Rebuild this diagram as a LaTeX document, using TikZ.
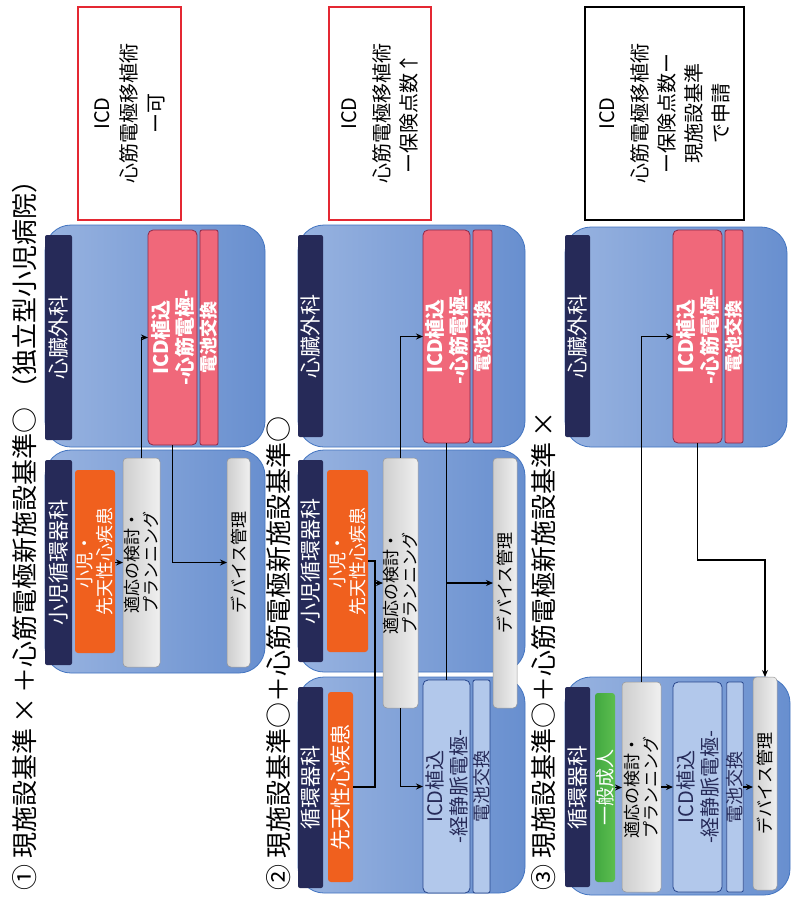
\documentclass[tikz,border=0pt]{standalone}
\usepackage{fontspec}
\setmainfont{Noto Sans CJK JP}
\usetikzlibrary{arrows.meta,calc}
\definecolor{navy}{RGB}{38,42,88}
\definecolor{panelL}{RGB}{152,179,224}
\definecolor{panelR}{RGB}{104,143,207}
\definecolor{panelB}{RGB}{66,116,192}
\definecolor{redA}{RGB}{240,104,122}
\definecolor{redB}{RGB}{226,22,50}
\definecolor{redD}{RGB}{140,40,72}
\definecolor{grayA}{RGB}{240,240,240}
\definecolor{grayB}{RGB}{206,206,206}
\definecolor{grayD}{RGB}{150,150,150}
\definecolor{lbA}{RGB}{230,237,248}
\definecolor{lbB}{RGB}{178,200,235}
\definecolor{lbD}{RGB}{40,70,140}
\definecolor{orB}{RGB}{240,96,30}
\definecolor{grA}{RGB}{92,190,80}
\definecolor{grB}{RGB}{66,168,64}
\definecolor{frameRed}{RGB}{228,40,50}
\tikzset{
  every node/.style={inner sep=0pt, outer sep=0pt},
  panel/.style={draw=panelB, line width=0.8pt, rounded corners=26pt, left color=panelL, right color=panelR},
  tab/.style={fill=navy, rotate=90, text=white, rounded corners=2pt, font=\fontsize{21}{23}\selectfont},
  redbox/.style={draw=redD, line width=0.8pt, rounded corners=5pt, rotate=90, top color=redA, middle color=redB, bottom color=redA, text=white, align=center, font=\bfseries\fontsize{20}{24}\selectfont},
  redbatt/.style={redbox, rounded corners=2pt, font=\bfseries\fontsize{18}{20}\selectfont},
  lbbox/.style={draw=lbD, line width=0.8pt, rounded corners=5pt, rotate=90, left color=lbB, middle color=lbA, right color=lbB, text=navy, align=center, font=\fontsize{20}{24}\selectfont},
  lbbatt/.style={lbbox, rounded corners=2pt, font=\fontsize{18}{20}\selectfont},
  graybox/.style={draw=grayD, line width=0.5pt, rounded corners=4pt, rotate=90, left color=grayB, right color=grayA, text=black, align=center, font=\fontsize{17}{19}\selectfont},
  orangebox/.style={fill=orB, rounded corners=3pt, rotate=90, text=white, align=center, font=\fontsize{18}{20}\selectfont},
  greenbox/.style={left color=grB, right color=grA, rounded corners=3pt, rotate=90, text=white, align=center, font=\fontsize{19}{21}\selectfont},
  note/.style={draw=frameRed, line width=1.3pt, fill=white, rotate=90, align=center, font=\fontsize{20}{27}\selectfont},
  notek/.style={note, draw=black},
  title/.style={rotate=90, anchor=west, font=\fontsize{26}{30}\selectfont},
  conn/.style={line width=1.1pt, draw=black},
  arr/.style={conn, -{Stealth[length=7pt,width=6pt]}},
}
\begin{document}
\begin{tikzpicture}[x=1pt,y=-1pt]
\useasboundingbox[fill=white] (0,0) rectangle (795,900);

% ---------- titles ----------
\node[title] (h1) at (25,890) {①\ 現施設基準\,×\,＋心筋電極新施設基準○\ （独立型小児病院）};
\node[title] (h2) at (279,890) {②\ 現施設基準○＋心筋電極新施設基準○};
\node[title] (h3) at (544,890) {③\ 現施設基準○＋心筋電極新施設基準\,×};

% ---------- row 1 ----------
\node[note, minimum width=213pt, minimum height=103pt] (n1) at (129.5,113.5) {ICD\\心筋電極移植術\\ー可};
\node[panel, minimum width=220pt, minimum height=222pt] (p1a) at (155,336) {};
\node[panel, minimum width=220pt, minimum height=223pt] (p1b) at (155,561.5) {};
\node[tab, minimum width=205pt, minimum height=27pt] (t1a) at (58.5,337.5) {心臓外科};
\node[redbox, minimum width=215pt, minimum height=49pt] (icd1) at (172.5,337.5) {ICD植込\\-心筋電極-};
\node[redbatt, minimum width=215pt, minimum height=18pt] (bat1) at (209,337.5) {電池交換};
\node[tab, minimum width=205pt, minimum height=27pt] (t1b) at (58.5,562.5) {小児循環器科};
\node[orangebox, minimum width=183pt, minimum height=40pt] (or1) at (95,561.5) {小児・\\先天性心疾患};
\node[graybox, minimum width=209pt, minimum height=37pt] (pl1) at (141.5,562.5) {適応の検討・\\プランニング};
\node[graybox, minimum width=209pt, minimum height=23pt] (dv1) at (238.5,562.5) {デバイス管理};

\draw[arr] (or1.south |- pl1.north) -- (pl1.north);
\draw[arr] (pl1.east) |- (icd1.north);
\draw[arr] (icd1.west) |- (dv1.north);

% ---------- row 2 ----------
\node[note, minimum width=213pt, minimum height=102pt] (n2) at (380,113.5) {ICD\\[6pt]心筋電極移植術\\ー保険点数↑};
\node[panel, minimum width=227pt, minimum height=222pt] (p2a) at (411.5,336) {};
\node[panel, minimum width=227pt, minimum height=222pt] (p2b) at (411.5,561) {};
\node[panel, minimum width=227pt, minimum height=216pt] (p2c) at (411.5,785) {};
\node[tab, minimum width=202pt, minimum height=25pt] (t2a) at (310.5,336) {心臓外科};
\node[redbox, minimum width=213pt, minimum height=47pt] (icd2) at (446.5,336.5) {ICD植込\\-心筋電極-};
\node[redbatt, minimum width=213pt, minimum height=19pt] (bat2) at (482.5,336.5) {電池交換};
\node[tab, minimum width=202pt, minimum height=25pt] (t2b) at (310.5,561) {小児循環器科};
\node[tab, minimum width=201pt, minimum height=25pt] (t2c) at (310.5,787.5) {循環器科};
\node[orangebox, minimum width=182pt, minimum height=41pt] (or2a) at (347.5,561) {小児・\\先天性心疾患};
\node[orangebox, minimum width=190pt, minimum height=25pt, font=\fontsize{21}{23}\selectfont] (or2b) at (340.5,787) {先天性心疾患};
\node[graybox, minimum width=250pt, minimum height=35pt] (pl2) at (400.5,583) {適応の検討・\\プランニング};
\node[graybox, minimum width=250pt, minimum height=24pt] (dv2) at (505,583) {デバイス管理};
\node[lbbox, minimum width=213pt, minimum height=47pt] (licd2) at (446.5,786.5) {ICD植込\\-経静脈電極-};
\node[lbbatt, minimum width=213pt, minimum height=17pt] (lbat2) at (481.5,786.5) {電池交換};

\coordinate (j2) at ($(pl2.north)+(-8,0)$);
\draw[arr] (or2b.south) -| (j2) -- (pl2.north);
\draw[conn] (or2a.south) -| (j2);
\draw[arr] (pl2.east) |- (icd2.north);
\draw[arr] (pl2.west) |- (licd2.north);
\draw[conn] (icd2.west) -- (licd2.east);
\draw[arr] (icd2.west |- dv2.north) -- (dv2.north);

% ---------- row 3 ----------
\node[notek, minimum width=213pt, minimum height=159pt] (n3) at (664.5,113.5) {ICD\\[6pt]心筋電極移植術\\ー保険点数ー\\現施設基準\\で申請};
\node[panel, minimum width=222pt, minimum height=220pt] (p3a) at (676,337) {};
\node[panel, minimum width=225pt, minimum height=218pt] (p3b) at (677.5,786) {};
\node[tab, minimum width=202pt, minimum height=25pt] (t3a) at (577.5,336) {心臓外科};
\node[redbox, minimum width=213pt, minimum height=49pt] (icd3) at (697.5,336.5) {ICD植込\\-心筋電極-};
\node[redbatt, minimum width=213pt, minimum height=18pt] (bat3) at (734,336.5) {電池交換};
\node[tab, minimum width=200pt, minimum height=25pt] (t3b) at (577.5,787) {循環器科};
\node[greenbox, minimum width=189pt, minimum height=20pt] (gr3) at (605,787.5) {一般成人};
\node[graybox, minimum width=210pt, minimum height=39pt] (pl3) at (641.5,787) {適応の検討・\\プランニング};
\node[lbbox, minimum width=210pt, minimum height=49pt] (licd3) at (697.5,787) {ICD植込\\-経静脈電極-};
\node[lbbatt, minimum width=210pt, minimum height=16pt] (lbat3) at (735,787) {電池交換};
\node[graybox, minimum width=213pt, minimum height=24pt] (dv3) at (765,783.5) {デバイス管理};

\draw[arr] (gr3.south) -- (gr3.south -| pl3.north);
\draw[arr] (pl3.south) -- (pl3.south -| licd3.north);
\draw[arr] (lbat3.south) -- (lbat3.south -| dv3.north);
\draw[arr] (pl3.east) |- (icd3.north);
\draw[arr] (icd3.west) -- ++(0,117) -| (dv3.east);
\end{tikzpicture}
\end{document}
